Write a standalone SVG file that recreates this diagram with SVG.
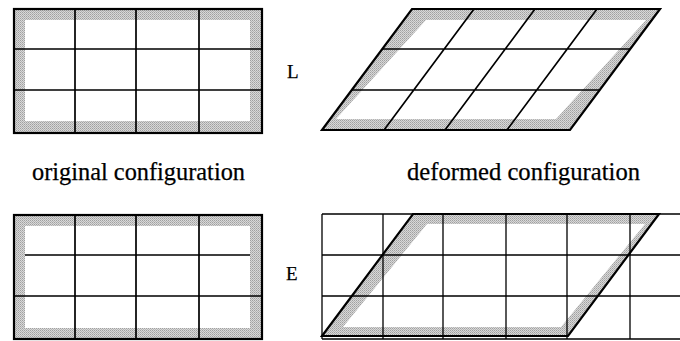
<svg xmlns="http://www.w3.org/2000/svg" width="680" height="341" viewBox="0 0 680 341">
<defs>
<pattern id="stip" width="2" height="2" patternUnits="userSpaceOnUse">
<rect width="2" height="2" fill="#d8d8d8"/>
<rect width="1" height="1" fill="#a0a0a0"/>
<rect x="1" y="1" width="1" height="1" fill="#b4b4b4"/>
</pattern>
<style>
.band{fill:url(#stip);stroke:none}
.inner{fill:#ffffff;stroke:none}
.grid{stroke:#000;stroke-width:1.7;fill:none}
.thin{stroke:#000;stroke-width:1.3;fill:none}
.outline{stroke:#000;stroke-width:2.2;fill:none;stroke-linejoin:miter}
text{font-family:'Liberation Serif','Times New Roman','DejaVu Serif',serif;fill:#000;stroke:#000;stroke-width:0.25}
</style>
</defs>
<rect width="680" height="341" fill="#fff"/>

<g id="original-L">
<rect class="band" x="14" y="9" width="248" height="124"/>
<rect class="inner" x="25" y="20" width="225" height="101"/>
<path class="grid" d="M75,9V133M136,9V133M199,9V133M14,49H262M14,90H262"/>
<rect class="outline" x="14" y="9" width="248" height="124"/>
</g>

<g id="deformed-L">
<polygon class="band" points="412,9 660,9 570,130 322,130"/>
<polygon class="inner" points="426,20 646,20 556,119 336,119"/>
<path class="grid" d="M474,9L384,130M535,9L445,130M597,9L507,130M382,49H630M352,90H600"/>
<polygon class="outline" points="412,9 660,9 570,130 322,130"/>
</g>

<g id="label-L"><text x="287" y="78" font-size="19">L</text></g>
<g id="label-E"><text x="286" y="280" font-size="19">E</text></g>

<g id="caption-original"><text x="32" y="180" font-size="26" textLength="213" lengthAdjust="spacingAndGlyphs">original configuration</text></g>
<g id="caption-deformed"><text x="407" y="180" font-size="26" textLength="233" lengthAdjust="spacingAndGlyphs">deformed configuration</text></g>

<g id="original-E">
<rect class="band" x="14" y="215" width="248" height="125"/>
<rect class="inner" x="25" y="226" width="225" height="102"/>
<path class="grid" d="M75,215V340M136,215V340M199,215V340M25,255H250M14,296H262"/>
<rect class="outline" x="14" y="215" width="248" height="124"/>
</g>

<g id="deformed-E">
<polygon class="band" points="413,214 659,214 568,336 322,336"/>
<polygon class="inner" points="427,224 645,224 561,327 343,327"/>
<path class="thin" d="M322,214V339M383,214V339M443,214V339M506,214V339M567,214V339M630,214V339M322,214H680M322,255H680M322,296H680M322,339H680"/>
<polygon class="outline" points="413,214 659,214 568,336 322,336"/>
</g>
</svg>
